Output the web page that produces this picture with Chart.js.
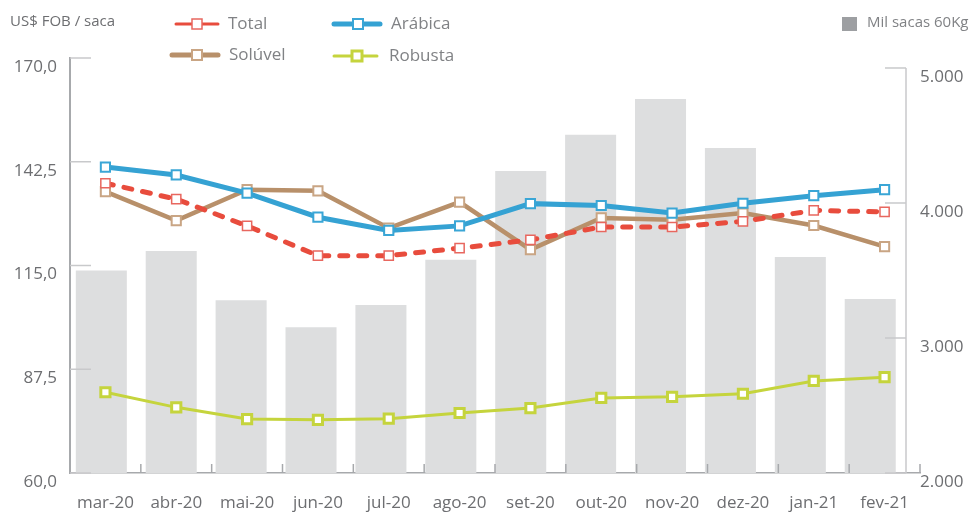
<!DOCTYPE html>
<html lang="pt-BR">
<head>
<meta charset="utf-8">
<title>Exportações de café</title>
<script src="https://cdn.jsdelivr.net/npm/chart.js@4.4.1/dist/chart.umd.min.js"></script>
<style>
  html, body { margin: 0; padding: 0; background: #fff; }
  #grafico { display: block; }
</style>
</head>
<body>
<canvas id="grafico" width="970" height="513"></canvas>
<script>
// meses (eixo x)
const meses = ['mar-20', 'abr-20', 'mai-20', 'jun-20', 'jul-20', 'ago-20',
               'set-20', 'out-20', 'nov-20', 'dez-20', 'jan-21', 'fev-21'];

// preço US$ FOB / saca (eixo esquerdo)
const total   = [136.8, 132.6, 125.5, 117.6, 117.6, 119.6, 121.8, 125.2, 125.2, 126.7, 129.6, 129.2];
const arabica = [141.1, 139.0, 134.2, 127.8, 124.3, 125.5, 131.4, 130.9, 128.9, 131.5, 133.5, 135.1];
const soluvel = [134.6, 126.9, 135.1, 134.8, 124.9, 131.8, 119.2, 127.6, 127.1, 128.9, 125.6, 120.0];
const robusta = [81.4, 77.4, 74.3, 74.1, 74.4, 75.9, 77.2, 79.9, 80.2, 81.0, 84.4, 85.4];

// volume, mil sacas 60Kg (eixo direito)
const milSacas = [3500, 3645, 3280, 3080, 3245, 3580, 4237, 4505, 4770, 4407, 3600, 3289];

// marcas dos eixos
const ticksPreco = [60, 87.5, 115, 142.5, 170];
const ticksSacas = [2000, 3000, 4000, 5000];

const fonte = '"Open Sans", sans-serif';
const corTexto = '#6d6e71';
const corLegenda = '#808285';

function fmtPreco(v) {
    return v.toFixed(1).replace('.', ',');
}
function fmtSacas(v) {
    return String(v).replace(/\B(?=(\d{3})+(?!\d))/g, '.');
}

// eixos, marcas e legenda desenhados à mão
const decoracao = {
    id: 'decoracao',
    afterDatasetsDraw(chart) {
        const {ctx, chartArea, scales} = chart;
        ctx.save();
        ctx.lineWidth = 1.5;
        ctx.strokeStyle = '#c8c9cb';
        scales.y.ticks.forEach(t => {
            const y = scales.y.getPixelForValue(t.value);
            ctx.beginPath();
            ctx.moveTo(chartArea.left, y);
            ctx.lineTo(chartArea.left + 21, y);
            ctx.stroke();
        });
        const xDir = chartArea.right - 14;
        scales.yr.ticks.forEach(t => {
            const y = scales.yr.getPixelForValue(t.value);
            ctx.beginPath();
            ctx.moveTo(xDir - 21, y);
            ctx.lineTo(xDir, y);
            ctx.stroke();
        });
        ctx.beginPath();
        ctx.moveTo(xDir, scales.yr.getPixelForValue(ticksSacas[ticksSacas.length - 1]));
        ctx.lineTo(xDir, chartArea.bottom);
        ctx.stroke();

        ctx.strokeStyle = '#a7a9ac';
        for (let i = 1; i <= meses.length; i++) {
            let x;
            if (i < meses.length) {
                x = (scales.x.getPixelForTick(i - 1) + scales.x.getPixelForTick(i)) / 2;
            } else {
                x = chartArea.right;
            }
            ctx.beginPath();
            ctx.moveTo(x, chartArea.bottom - 9);
            ctx.lineTo(x, chartArea.bottom);
            ctx.stroke();
        }
        ctx.restore();
    },
    afterDraw(chart) {
        const ctx = chart.ctx;
        ctx.save();
        ctx.textBaseline = 'middle';
        ctx.textAlign = 'left';

        ctx.fillStyle = corTexto;
        ctx.font = '15px ' + fonte;
        ctx.fillText('US$ FOB / saca', 10, 22);

        const itens = [
            {label: 'Total',   x1: 176, x2: 218, xm: 197, xt: 228, y: 24, lw: 3},
            {label: 'Arábica', x1: 334, x2: 380, xm: 358, xt: 391, y: 24, lw: 5},
            {label: 'Solúvel', x1: 172, x2: 218, xm: 197, xt: 229, y: 55, lw: 5},
            {label: 'Robusta', x1: 334, x2: 377, xm: 357, xt: 389, y: 56, lw: 3}
        ];
        itens.forEach(it => {
            const ds = chart.data.datasets.find(d => d.label === it.label);
            ctx.strokeStyle = ds.borderColor;
            ctx.lineWidth = it.lw;
            ctx.lineCap = 'round';
            ctx.beginPath();
            ctx.moveTo(it.x1, it.y);
            ctx.lineTo(it.x2, it.y);
            ctx.stroke();
            ctx.fillStyle = '#fff';
            ctx.fillRect(it.xm - 5, it.y - 5, 10, 10);
            ctx.strokeStyle = ds.pointBorderColor;
            ctx.lineWidth = ds.pointBorderWidth;
            ctx.strokeRect(it.xm - 5, it.y - 5, 10, 10);
            ctx.fillStyle = corLegenda;
            ctx.font = '17px ' + fonte;
            ctx.fillText(it.label, it.xt, it.y);
        });

        ctx.fillStyle = '#9d9fa2';
        ctx.fillRect(842, 17, 15, 14);
        ctx.fillStyle = corLegenda;
        ctx.font = '15px ' + fonte;
        ctx.fillText('Mil sacas 60Kg', 867, 23);
        ctx.restore();
    }
};

function serie(label, dados, cor, corMarca, largura, bordaMarca, ordem) {
    return {
        type: 'line',
        label: label,
        data: dados,
        xAxisID: 'x',
        yAxisID: 'y',
        order: ordem,
        borderColor: cor,
        borderWidth: largura,
        tension: 0,
        pointStyle: 'rect',
        pointRadius: 6.5,
        pointBackgroundColor: '#fff',
        pointBorderColor: corMarca,
        pointBorderWidth: bordaMarca
    };
}

const ctx = document.getElementById('grafico').getContext('2d');
const grafico = new Chart(ctx, {
    type: 'bar',
    data: {
        labels: meses,
        datasets: [
            Object.assign(serie('Total', total, '#e84c3d', '#e8675f', 5, 1.5, 1), {
                borderDash: [8, 11],
                borderCapStyle: 'round'
            }),
            serie('Arábica', arabica, '#35a2d3', '#3aa6d6', 5, 2, 0),
            serie('Solúvel', soluvel, '#b8906a', '#c9a584', 4.5, 2, 2),
            serie('Robusta', robusta, '#c5d43d', '#c5d43d', 3, 3, 3),
            {
                type: 'bar',
                label: 'Mil sacas 60Kg',
                data: milSacas.map((v, i) => ({x: i, y: v})),
                xAxisID: 'xb',
                yAxisID: 'yr',
                order: 4,
                grouped: false,
                backgroundColor: '#dddedf',
                categoryPercentage: 1,
                barPercentage: 0.73
            }
        ]
    },
    options: {
        responsive: false,
        animation: false,
        devicePixelRatio: 1,
        layout: { padding: { top: 58, left: 0, right: 0, bottom: 0 } },
        plugins: {
            legend: { display: false },
            tooltip: { enabled: false }
        },
        scales: {
            x: {
                type: 'category',
                offset: true,
                grid: { display: false, drawTicks: false },
                border: { display: true, color: '#a7a9ac', width: 1.5 },
                ticks: {
                    color: corTexto,
                    font: { family: fonte, size: 17 },
                    padding: 20,
                    maxRotation: 0,
                    autoSkip: false
                },
                afterFit(scale) { scale.height = 40; }
            },
            xb: {
                type: 'linear',
                display: false,
                offset: false,
                grid: { offset: false },
                min: -0.448,
                max: 11.712,
                afterBuildTicks(scale) {
                    scale.ticks = meses.map((m, i) => ({value: i}));
                }
            },
            y: {
                position: 'left',
                min: 60,
                max: 170,
                grid: { display: false, drawTicks: false },
                border: { display: true, color: '#a7a9ac', width: 2 },
                afterBuildTicks(scale) {
                    scale.ticks = ticksPreco.map(v => ({value: v}));
                },
                ticks: {
                    color: corTexto,
                    font: { family: fonte, size: 17 },
                    padding: 13,
                    labelOffset: 9,
                    callback: v => fmtPreco(v)
                },
                afterFit(scale) { scale.width = 70; }
            },
            yr: {
                position: 'right',
                min: 2000,
                max: 5074,
                grid: { display: false, drawTicks: false },
                border: { display: false },
                afterBuildTicks(scale) {
                    scale.ticks = ticksSacas.map(v => ({value: v}));
                },
                ticks: {
                    color: corTexto,
                    font: { family: fonte, size: 17 },
                    padding: 0,
                    labelOffset: 9,
                    callback: v => fmtSacas(v)
                },
                afterFit(scale) { scale.width = 50; }
            }
        }
    },
    plugins: [decoracao]
});
</script>
</body>
</html>
